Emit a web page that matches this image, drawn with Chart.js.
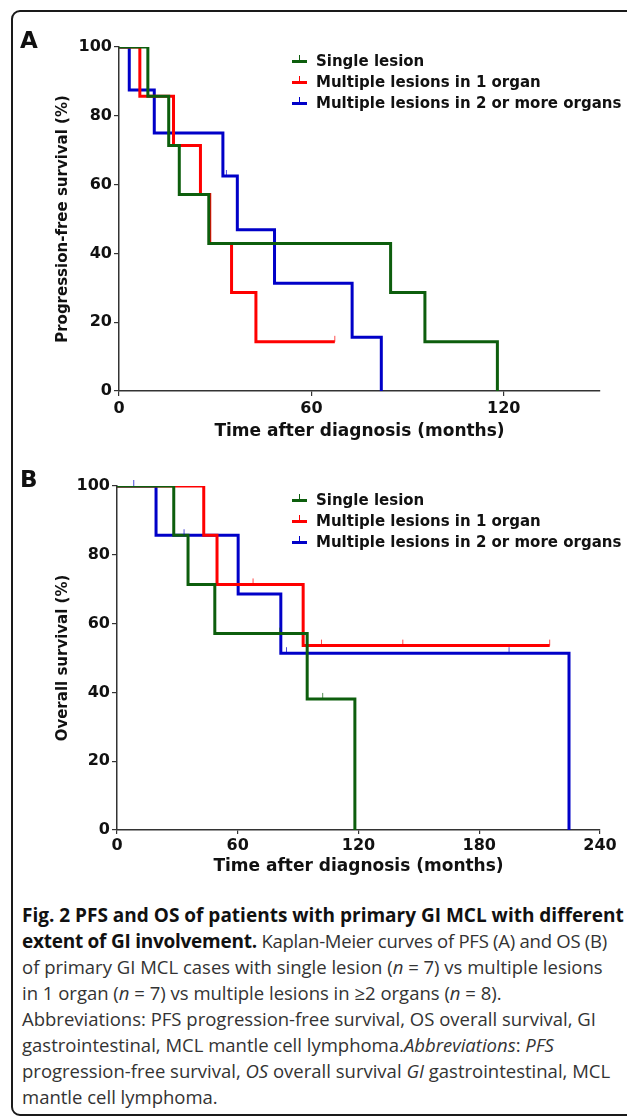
<!DOCTYPE html>
<html>
<head>
<meta charset="utf-8">
<script src="https://cdn.jsdelivr.net/npm/chart.js@4.4.1/dist/chart.umd.min.js"></script>
<style>
html,body{margin:0;padding:0;background:#fff;width:627px;height:1117px;overflow:hidden;position:relative;}
#frame{position:absolute;left:11px;top:10px;width:650px;height:1106px;box-sizing:border-box;border:2px solid #1a1a1a;border-radius:9px;}
.panel{position:absolute;left:0;width:627px;height:450px;}
#wrapA{top:0}
#wrapB{top:450px}
.tag{position:absolute;left:20px;font:bold 23px "DejaVu Sans";color:#111;line-height:23px;}
.legend{position:absolute;left:292px;font:bold 15px "DejaVu Sans";color:#111;}
.legend div{height:21px;line-height:21px;white-space:nowrap;position:relative;padding-left:24px;}
.sym{position:absolute;left:0;top:9px;width:15px;height:3px;}
.sym i{position:absolute;left:7px;top:-5px;width:1px;height:5px;background:inherit;}
.caption{position:absolute;left:22px;top:902px;font:18.5px "Open Sans";color:#333;line-height:26px;white-space:nowrap;}
.caption b{color:#111;font-size:19px;}
.caption .tight{letter-spacing:-0.25px;}
</style>
</head>
<body>
<div id="frame"></div>
<div class="panel" id="wrapA"><canvas id="chartA" width="627" height="450"></canvas></div>
<div class="panel" id="wrapB"><canvas id="chartB" width="627" height="450"></canvas></div>
<div class="tag" style="top:29px">A</div>
<div class="tag" style="top:468px">B</div>
<div class="legend" id="legA" style="top:51px"></div>
<div class="legend" id="legB" style="top:490px"></div>
<div class="caption">
<div><b>Fig. 2 PFS and OS of patients with primary GI MCL with different</b></div>
<div class="tight"><b>extent of GI involvement.</b> Kaplan-Meier curves of PFS (A) and OS (B)</div>
<div>of primary GI MCL cases with single lesion (<i>n</i> = 7) vs multiple lesions</div>
<div>in 1 organ (<i>n</i> = 7) vs multiple lesions in ≥2 organs (<i>n</i> = 8).</div>
<div>Abbreviations: PFS progression-free survival, OS overall survival, GI</div>
<div>gastrointestinal, MCL mantle cell lymphoma.<i>Abbreviations</i>: <i>PFS</i></div>
<div>progression-free survival, <i>OS</i> overall survival <i>GI</i> gastrointestinal, MCL</div>
<div>mantle cell lymphoma.</div>
</div>
<script>
const groups = ["Single lesion", "Multiple lesions in 1 organ", "Multiple lesions in 2 or more organs"];
const colors = ["#0d5e0d", "#fe0000", "#0000c8"];

// PFS (panel A): event times (months) and survival (%)
const pfsSingleT = [0, 9, 15.5, 18.8, 28, 84.7, 95.4, 118];
const pfsSingleS = [100, 85.7, 71.4, 57.1, 42.9, 28.6, 14.3, 0];
const pfsOrgan1T = [0, 6.5, 17, 25.4, 28.3, 35.1, 42.7, 67.3];
const pfsOrgan1S = [100, 85.7, 71.4, 57.1, 42.9, 28.6, 14.3, 14.3];
const pfsOrgan2T = [0, 3.2, 11, 32.4, 36.9, 48.5, 72.7, 81.8];
const pfsOrgan2S = [100, 87.5, 75, 62.5, 46.9, 31.3, 15.6, 0];
// PFS censored
const pfsCensSingleT = [];
const pfsCensSingleS = [];
const pfsCensOrgan1T = [67.3];
const pfsCensOrgan1S = [14.3];
const pfsCensOrgan2T = [33.5];
const pfsCensOrgan2S = [62.5];

// OS (panel B)
const osSingleT = [0, 28.2, 35.3, 48.6, 94.5, 118.2];
const osSingleS = [100, 85.7, 71.4, 57.1, 38.1, 0];
const osOrgan1T = [0, 43.1, 49.7, 92.5, 215];
const osOrgan1S = [100, 85.7, 71.4, 53.6, 53.6];
const osOrgan2T = [0, 19.4, 60.2, 81.4, 224.6];
const osOrgan2S = [100, 85.7, 68.6, 51.4, 0];
// OS censored
const osCensSingleT = [80.9, 102.2];
const osCensSingleS = [57.1, 38.1];
const osCensOrgan1T = [67.6, 101.6, 142, 215];
const osCensOrgan1S = [71.4, 53.6, 53.6, 53.6];
const osCensOrgan2T = [8.3, 33.3, 84.2, 194.8];
const osCensOrgan2S = [100, 85.7, 51.4, 51.4];

const pfsTicksX = [0, 60, 120];
const osTicksX = [0, 60, 120, 180, 240];
const yTicks = [0, 20, 40, 60, 80, 100];

const FONT = "DejaVu Sans";
Chart.defaults.font.family = FONT;
Chart.defaults.color = "#111";

function censorMark(color){
  const c = document.createElement("canvas");
  c.width = 3; c.height = 14;
  const g = c.getContext("2d");
  g.globalAlpha = 0.7;
  g.fillStyle = color;
  g.fillRect(1, 1, 1, 6);
  return c;
}

function km(i, t, s){
  return {
    type: "line", label: groups[i],
    data: t.map((x, k) => ({x: x, y: s[k]})),
    borderColor: colors[i], backgroundColor: colors[i],
    borderWidth: 3, stepped: "before", pointRadius: 0, fill: false,
    borderJoinStyle: "miter", borderCapStyle: "butt", order: i + 1
  };
}
function cens(i, t, s){
  return {
    type: "scatter", label: groups[i] + " censored",
    data: t.map((x, k) => ({x: x, y: s[k]})),
    pointStyle: censorMark(colors[i]), pointRadius: 6, borderWidth: 0,
    showLine: false, clip: false, order: 0
  };
}

function scales(xTicks, xMax, yTitle, o){
  const tickFont = {family: FONT, size: 16, weight: "bold"};
  return {
    x: {
      type: "linear", min: 0, max: xMax,
      afterBuildTicks: s => { s.ticks = xTicks.map(v => ({value: v})); },
      afterFit: s => { s.height = o.xH; },
      ticks: {padding: o.xPad, color: "#111", font: tickFont, maxRotation: 0, autoSkip: false},
      grid: {drawOnChartArea: false, drawTicks: true, tickLength: o.xLen, color: "#333", lineWidth: 1.2},
      border: {display: true, color: "#333", width: 1.5},
      title: {display: true, text: "Time after diagnosis (months)", color: "#111",
              font: {family: FONT, size: 17, weight: "bold"}, padding: 0}
    },
    y: {
      min: 0, max: 100,
      afterBuildTicks: s => { s.ticks = yTicks.map(v => ({value: v})); },
      afterFit: s => { s.width = o.yW; },
      ticks: {padding: 2, color: "#111", font: tickFont},
      grid: {drawOnChartArea: false, drawTicks: true, tickLength: 5, color: "#333", lineWidth: 1.2},
      border: {display: true, color: "#333", width: 1.5},
      title: {display: true, text: yTitle, color: "#111",
              font: {family: FONT, size: 15, weight: "bold"}, padding: 0}
    }
  };
}

function makeChart(id, datasets, sc, pad){
  return new Chart(document.getElementById(id), {
    type: "line",
    data: {datasets: datasets},
    options: {
      responsive: false, animation: false,
      layout: {padding: pad},
      plugins: {legend: {display: false}, tooltip: {enabled: false}},
      scales: sc
    }
  });
}

makeChart("chartA", [
  km(0, pfsSingleT, pfsSingleS),
  km(1, pfsOrgan1T, pfsOrgan1S),
  km(2, pfsOrgan2T, pfsOrgan2S),
  cens(0, pfsCensSingleT, pfsCensSingleS),
  cens(1, pfsCensOrgan1T, pfsCensOrgan1S),
  cens(2, pfsCensOrgan2T, pfsCensOrgan2S)
], scales(pfsTicksX, 150, "Progression-free survival (%)", {xH: 51, xPad: 3, xLen: 5, yW: 65}),
{left: 54, right: 27, top: 47, bottom: 8});

makeChart("chartB", [
  km(0, osSingleT, osSingleS),
  km(1, osOrgan1T, osOrgan1S),
  km(2, osOrgan2T, osOrgan2S),
  cens(0, osCensSingleT, osCensSingleS),
  cens(1, osCensOrgan1T, osCensOrgan1S),
  cens(2, osCensOrgan2T, osCensOrgan2S)
], scales(osTicksX, 240, "Overall survival (%)", {xH: 47, xPad: 2, xLen: 4, yW: 63}),
{left: 54, right: 27, top: 36, bottom: 23});

// legends
["legA", "legB"].forEach(id => {
  const box = document.getElementById(id);
  groups.forEach((g, i) => {
    const row = document.createElement("div");
    const sym = document.createElement("span");
    sym.className = "sym";
    sym.style.background = colors[i];
    sym.appendChild(document.createElement("i"));
    row.appendChild(sym);
    row.appendChild(document.createTextNode(g));
    box.appendChild(row);
  });
});
</script>
</body>
</html>
